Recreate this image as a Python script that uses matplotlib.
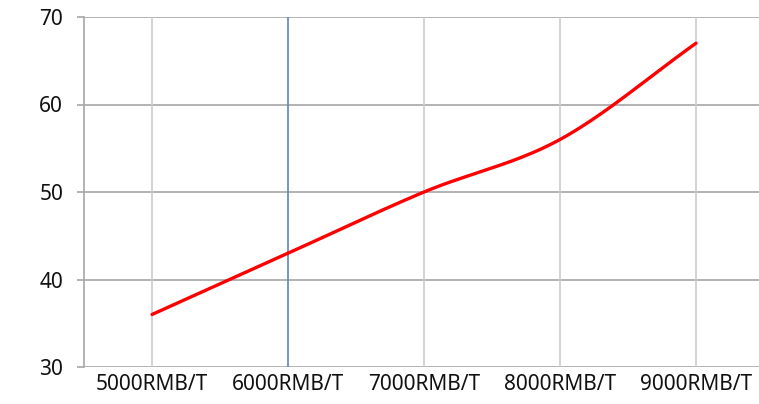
import numpy as np
import matplotlib.pyplot as plt

plt.rcParams['font.family'] = ['Noto Sans', 'DejaVu Sans']

categories = ['5000RMB/T', '6000RMB/T', '7000RMB/T', '8000RMB/T', '9000RMB/T']
values = [36, 43, 50, 56, 67]
y_ticks = [30, 40, 50, 60, 70]
highlight_index = 1


def smooth_curve(x, y, n=40):
    # Catmull-Rom style smoothing, like a spreadsheet "smoothed line"
    x = np.asarray(x, float)
    y = np.asarray(y, float)
    px = np.concatenate([[2 * x[0] - x[1]], x, [2 * x[-1] - x[-2]]])
    py = np.concatenate([[2 * y[0] - y[1]], y, [2 * y[-1] - y[-2]]])
    out_x, out_y = [], []
    t = np.linspace(0, 1, n)
    for i in range(1, len(px) - 2):
        for p, out in ((px, out_x), (py, out_y)):
            p0, p1, p2, p3 = p[i - 1], p[i], p[i + 1], p[i + 2]
            seg = 0.5 * ((2 * p1) + (-p0 + p2) * t
                         + (2 * p0 - 5 * p1 + 4 * p2 - p3) * t ** 2
                         + (-p0 + 3 * p1 - 3 * p2 + p3) * t ** 3)
            out.extend(seg)
    return np.array(out_x), np.array(out_y)


fig = plt.figure(figsize=(7.59, 4.04), dpi=100)
ax = fig.add_axes([84 / 759, 1 - 367 / 404, 680 / 759, 350 / 404])

xs = np.arange(len(categories))
ax.set_xlim(-0.5, 4.5)
ax.set_ylim(30, 70)

for yt in y_ticks:
    ax.axhline(yt, color='#a6a6a6', lw=1.2, zorder=1)
for i in xs:
    if i == highlight_index:
        ax.axvline(i, color='#6d8ac6', lw=1.3, zorder=2)
    else:
        ax.axvline(i, color='#cccccc', lw=1.2, zorder=1)

sx, sy = smooth_curve(xs, values)
ax.plot(sx, sy, color='#ff0000', lw=2.4, solid_capstyle='round', zorder=3)

ax.set_xticks(xs)
ax.set_xticklabels(categories, fontsize=15, color='#111111')
ax.set_yticks(y_ticks)
ax.set_yticklabels([str(v) for v in y_ticks], fontsize=15, color='#111111')
ax.tick_params(axis='x', length=0, pad=5)
ax.tick_params(axis='y', length=5, width=1.2, color='#a6a6a6', pad=10)

for side in ['top', 'right', 'bottom']:
    ax.spines[side].set_visible(False)
ax.spines['left'].set_color('#a6a6a6')
ax.spines['left'].set_linewidth(1.2)

fig.savefig('out.png', dpi=100)
